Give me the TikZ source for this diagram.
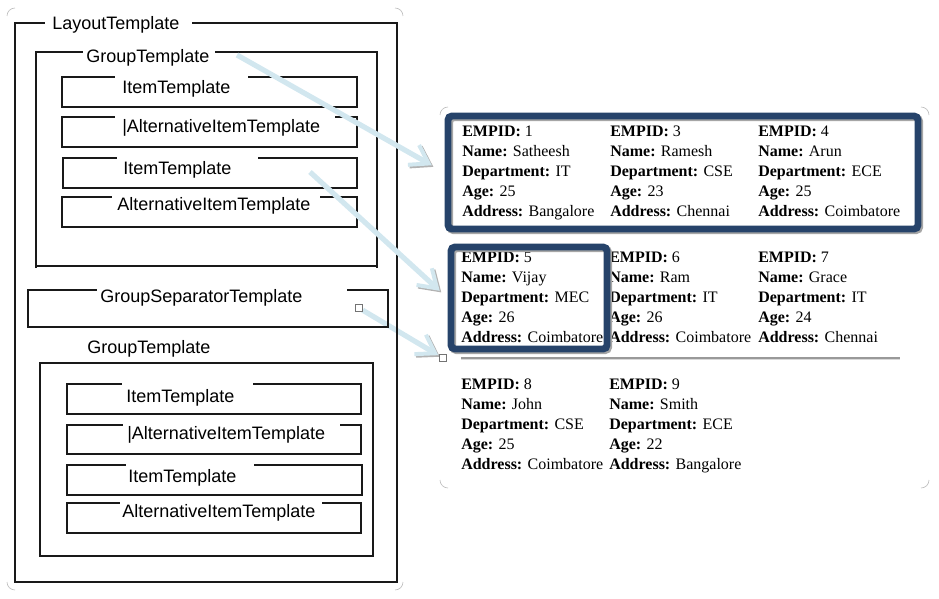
\documentclass[tikz,border=0pt]{standalone}
\usepackage{fontspec}
\setmainfont{Liberation Serif}
\newfontfamily\tplfont{Liberation Sans}
\usetikzlibrary{arrows.meta,fit,backgrounds}
\definecolor{framecolor}{HTML}{26436A}
\definecolor{calloutcolor}{HTML}{D2E7EF}
\tikzset{tpl/.style={draw=black!90,line width=.9pt},tpl label/.style={font=\tplfont\fontsize{13.5}{15}\selectfont,inner sep=0pt,anchor=base west},record/.style={font=\fontsize{12}{15}\selectfont,align=left,inner sep=0pt,anchor=base west},sel frame/.style={draw=framecolor,line width=5.2pt,rounded corners=3pt,inner sep=0pt,preaction={draw=black!35,transform canvas={shift={(1.3pt,-1.3pt)}}}},sep line/.style={draw=black!40,line width=1.1pt,preaction={draw=black!15,transform canvas={shift={(0pt,-1.2pt)}}}},callout/.style={draw=calloutcolor,line width=3.9pt,-{Straight Barb[length=13pt,width=17pt,line width=3pt]},preaction={draw=black!30,transform canvas={shift={(1.2pt,-1.2pt)}}}},handle/.style={draw=black!55,fill=white,minimum size=5pt,inner sep=0pt,line width=.5pt},corner mark/.style={draw=black!25,line width=.5pt,rounded corners=6pt}}

\begin{document}
\begin{tikzpicture}[x=.75pt,y=-.75pt]
 \useasboundingbox (0,0) rectangle (939,599);
 % faint panel corners
 \foreach \l/\t/\r/\b in {7/8/403/590,440/107/929/488} {
   \draw[corner mark] (\l,\t+8) -- (\l,\t) -- (\l+8,\t);
   \draw[corner mark] (\r-8,\t) -- (\r,\t) -- (\r,\t+8);
   \draw[corner mark] (\l,\b-8) -- (\l,\b) -- (\l+8,\b);
   \draw[corner mark] (\r-8,\b) -- (\r,\b) -- (\r,\b-8);
 }
 % template side
 \draw[tpl] (192,23) -- (397,23) -- (397,582) -- (15,582) -- (15,23) -- (45,23);
 \node[tpl label] (layout) at (52,30) {LayoutTemplate};
 \draw[tpl] (215,52) -- (377,52) -- (377,268) (36,268) -- (36,52) -- (83,52) (36,266) -- (377,266);
 \node[tpl label] (groupA) at (86,63) {GroupTemplate};
 \draw[tpl] (347,290) -| (388,327) -| (28,290) -- (97,290);
 \node[tpl label] (groupsep) at (100,302) {GroupSeparatorTemplate};
 \node[tpl label] (groupB) at (87,353) {GroupTemplate};
 \draw[tpl] (40,363) rectangle (373,556);
 \foreach \l/\t/\r/\b/\gl/\gr/\tx/\ty/\txt [count=\i] in {
   62/77/357/107/115/248/122/94/ItemTemplate,
   62/117/357/147/115/335/122/133/|AlternativeItemTemplate,
   63/158/357/188/117/258/123/175/ItemTemplate,
   62/197/357/227/112/320/117/210/AlternativeItemTemplate,
   67/384/361/414/122/253/126/402/ItemTemplate,
   67/425/361/454/123/340/127/439/|AlternativeItemTemplate,
   67/465/362/495/126/254/128/482/ItemTemplate,
   67/503/361/533/120/322/122/517/AlternativeItemTemplate} {
   \draw[tpl] (\gr,\t) -| (\r,\b) -| (\l,\t) -- (\gl,\t);
   \node[tpl label] (item\i) at (\tx,\ty) {\txt};
 }
 % rendered records (anchored on the last line)
 \foreach \x/\y/\id/\nm/\dept/\age/\addr [count=\r] in {
   462/217/1/Satheesh/IT/25/Bangalore,610/217/3/Ramesh/CSE/23/Chennai,758/217/4/Arun/ECE/25/Coimbatore,
   461/342/5/Vijay/MEC/26/Coimbatore,609/342/6/Ram/IT/26/Coimbatore,758/342/7/Grace/IT/24/Chennai,
   461/469/8/John/CSE/25/Coimbatore,609/469/9/Smith/ECE/22/Bangalore} {
   \node[record] (rec\r) at (\x,\y) {\textbf{EMPID:} \id\\\textbf{Name:} \nm\\\textbf{Department:} \dept\\\textbf{Age:} \age\\\textbf{Address:} \addr};
 }
 \draw[sep line] (461,358) -- (900,358);
 \node[sel frame,fit={(448,116)(918,229)}] (selA) {};
 \node[sel frame,fit={(451,247)(607,349)}] (selB) {};
 % callouts
 \coordinate (fromgroup) at (237,55);
 \coordinate (fromitem) at (310,172);
 \draw[callout,shorten >=11pt] (fromgroup) -- (selA.west);
 \draw[callout,shorten >=8pt] (fromitem) -- (selB.west);
 \node[handle] (hs) at (359,308) {};
 \node[handle] (he) at (443,358) {};
 \begin{scope}[on background layer]
   \draw[callout,shorten >=1pt] (hs) -- (he);
 \end{scope}
\end{tikzpicture}
\end{document}
